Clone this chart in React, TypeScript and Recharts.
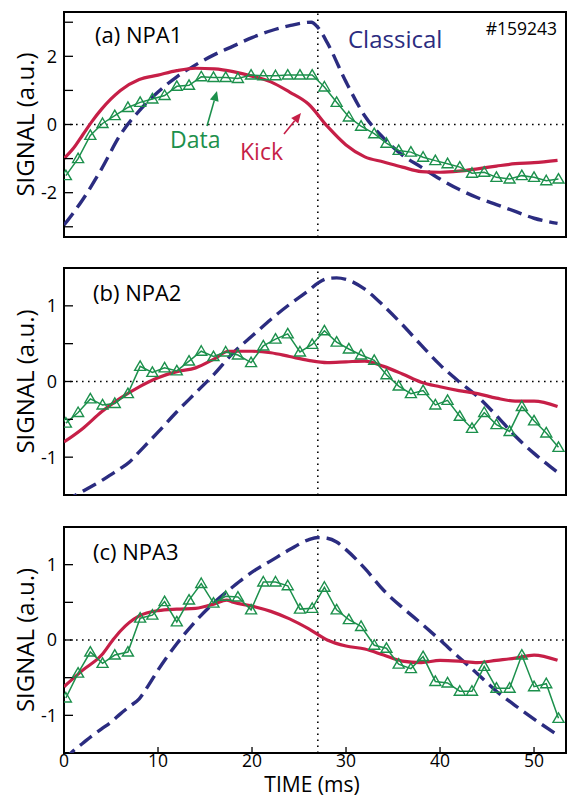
import React from "react";
import {
  LineChart,
  Line,
  XAxis,
  YAxis,
  ReferenceLine,
  ReferenceArea,
} from "recharts";

const NAVY = "#2b2c80";
const RED = "#c61f47";
const GREEN = "#1c904c";
const FONT = "'Open Sans', sans-serif";

// x axis (ms)
const X_DOMAIN: [number, number] = [0, 53.4];
const X_MAJOR = [0, 10, 20, 30, 40, 50];
const T_MARK = 27;

// measured points (triangles), same times for all three NPAs
const DATA_TIME = [
  0.2, 1.5, 2.8, 4.1, 5.4, 6.8, 8.1, 9.4, 10.7, 12.0, 13.3, 14.6, 15.9, 17.2,
  18.5, 19.9, 21.2, 22.5, 23.8, 25.1, 26.4, 27.7, 29.0, 30.3, 31.6, 33.0, 34.3,
  35.6, 36.9, 38.2, 39.5, 40.8, 42.1, 43.4, 44.7, 46.0, 47.4, 48.7, 50.0, 51.3,
  52.6,
];
const NPA1_DATA = [
  -1.5, -1.0, -0.32, 0.03, 0.26, 0.5, 0.65, 0.75, 0.85, 1.12, 1.15, 1.4, 1.38,
  1.38, 1.35, 1.45, 1.43, 1.43, 1.45, 1.45, 1.45, 1.1, 0.65, 0.22, -0.05, -0.27,
  -0.55, -0.76, -0.81, -0.96, -1.06, -1.15, -1.25, -1.43, -1.4, -1.55, -1.6,
  -1.5, -1.55, -1.65, -1.6,
];
const NPA2_DATA = [
  -0.55, -0.41, -0.23, -0.31, -0.29, -0.16, 0.2, 0.12, 0.18, 0.14, 0.27, 0.4,
  0.33, 0.39, 0.35, 0.25, 0.47, 0.56, 0.63, 0.39, 0.49, 0.67, 0.52, 0.43, 0.35,
  0.28, 0.09, -0.06, -0.16, -0.12, -0.31, -0.25, -0.46, -0.62, -0.41, -0.57,
  -0.66, -0.33, -0.52, -0.68, -0.87,
];
const NPA3_DATA = [
  -0.77, -0.44, -0.16, -0.31, -0.2, -0.16, 0.29, 0.33, 0.51, 0.24, 0.53, 0.75,
  0.49, 0.58, 0.57, 0.4, 0.77, 0.77, 0.72, 0.41, 0.42, 0.7, 0.4, 0.27, 0.18,
  -0.07, -0.11, -0.32, -0.38, -0.22, -0.55, -0.57, -0.68, -0.68, -0.35, -0.64,
  -0.64, -0.2, -0.62, -0.58, -1.04,
];

// classical model
const NPA1_CLASSICAL_TIME = [
  0, 2, 4, 6, 8, 10, 12, 14, 16, 18, 20, 22, 24, 26.3, 27, 28, 30, 32, 34, 36,
  38, 40, 42, 44, 46, 48, 50, 52.5,
];
const NPA1_CLASSICAL = [
  -2.95, -2.2, -1.3, -0.3, 0.4, 0.95, 1.4, 1.75, 2.05, 2.3, 2.55, 2.75, 2.9,
  3.0, 2.85, 2.4, 1.25, 0.25, -0.4, -0.9, -1.25, -1.6, -1.9, -2.15, -2.35,
  -2.55, -2.75, -2.9,
];
const NPA2_CLASSICAL_TIME = [
  0, 1, 2, 3, 4, 5, 6, 7, 8, 9, 10, 12, 14, 16, 18, 20, 22, 24, 26, 27, 28, 29,
  30, 32, 34, 36, 38, 40, 42, 44, 46, 48, 50, 52.5,
];
const NPA2_CLASSICAL = [
  -1.6, -1.52, -1.45, -1.38, -1.31, -1.23, -1.15, -1.06, -0.93, -0.8, -0.67,
  -0.4, -0.15, 0.1, 0.38, 0.6, 0.82, 1.02, 1.2, 1.3, 1.36, 1.37, 1.35, 1.22,
  1.0, 0.75, 0.48, 0.22, 0.0, -0.2, -0.45, -0.72, -0.95, -1.2,
];
const NPA3_CLASSICAL_TIME = NPA2_CLASSICAL_TIME;
const NPA3_CLASSICAL = [
  -1.6, -1.47, -1.37, -1.27, -1.18, -1.09, -0.98, -0.88, -0.78, -0.6, -0.4,
  -0.05, 0.25, 0.5, 0.71, 0.9, 1.05, 1.2, 1.33, 1.36, 1.35, 1.3, 1.2, 0.95,
  0.66, 0.43, 0.22, 0.0, -0.23, -0.45, -0.68, -0.87, -1.05, -1.26,
];

// kick model
const NPA1_KICK_TIME = [
  0, 1, 2, 3, 4, 5, 6, 8, 10, 12, 14, 16, 18, 20, 22, 24, 26, 28, 30, 32, 34,
  36, 38, 40, 42, 44, 46, 48, 50, 52.5,
];
const NPA1_KICK = [
  -1.0, -0.7, -0.3, 0.1, 0.45, 0.75, 1.0, 1.32, 1.45, 1.58, 1.65, 1.63, 1.55,
  1.42, 1.25, 0.95, 0.6, -0.05, -0.6, -0.95, -1.1, -1.25, -1.38, -1.4, -1.37,
  -1.3, -1.22, -1.15, -1.12, -1.05,
];
const NPA2_KICK_TIME = [
  0, 2, 4, 6, 8, 10, 12, 14, 16, 17.5, 20, 22, 24, 26, 28, 30, 32, 34, 36, 38,
  40, 42, 44, 46, 48, 50, 52.5,
];
const NPA2_KICK = [
  -0.8, -0.62, -0.4, -0.22, -0.07, 0.05, 0.13, 0.18, 0.3, 0.4, 0.4, 0.38, 0.33,
  0.28, 0.25, 0.26, 0.27, 0.2, 0.1, -0.01, -0.07, -0.12, -0.16, -0.22, -0.26,
  -0.26, -0.33,
];
const NPA3_KICK_TIME = [
  0, 2, 4, 5.2, 6, 8, 10, 12, 14, 16, 17.3, 18, 20, 22, 24, 26, 28, 30, 32, 34,
  36, 38, 40, 42, 44, 46, 48, 50, 52.5,
];
const NPA3_KICK = [
  -0.62, -0.4, -0.2, 0.0, 0.12, 0.32, 0.39, 0.41, 0.42, 0.48, 0.53, 0.5, 0.45,
  0.38, 0.28, 0.15, 0.0, -0.08, -0.12, -0.2, -0.28, -0.3, -0.27, -0.28, -0.3,
  -0.27, -0.24, -0.2, -0.27,
];

type Pt = { t: number; v: number };
const zip = (ts: number[], vs: number[]): Pt[] =>
  ts.map((t, i) => ({ t, v: vs[i] }));

// evenly spaced tick positions for the minor ticks
function steps(from: number, to: number, step: number) {
  const out: number[] = [];
  for (let i = 0; from + i * step <= to + 1e-9; i++) {
    out.push(Math.round((from + i * step) * 1000) / 1000);
  }
  return out;
}
const X_MINOR = steps(0, 53, 1);

const Triangle = (props: any) => {
  const { cx, cy, index } = props;
  if (cx == null || cy == null) return <g key={index} />;
  return (
    <path
      key={index}
      d={`M${cx},${cy - 5.5}L${cx + 5.5},${cy + 4}L${cx - 5.5},${cy + 4}Z`}
      fill="none"
      stroke={GREEN}
      strokeWidth={1.4}
    />
  );
};

type PanelProps = {
  top: number;
  height: number;
  plotTop: number;
  plotBottom: number;
  yDomain: [number, number];
  yMajor: number[];
  yLabels: number[];
  classical: Pt[];
  kick: Pt[];
  data: Pt[];
  xLabels: boolean;
};

function Panel(p: PanelProps) {
  const yMinor = steps(p.yDomain[0], p.yDomain[1], 0.1);
  const tickLine = { stroke: "#000", strokeWidth: 1.3 };
  return (
    <div style={{ position: "absolute", left: 0, top: p.top }}>
      <LineChart
        width={570}
        height={p.height}
        margin={{
          top: p.plotTop - p.top - 2,
          right: 2,
          bottom: p.top + p.height - p.plotBottom - 2,
          left: 62,
        }}
      >
        <XAxis
          xAxisId="x"
          dataKey="t"
          type="number"
          domain={X_DOMAIN}
          allowDataOverflow
          ticks={X_MAJOR}
          interval={0}
          height={1}
          tickSize={-6}
          tickMargin={8}
          axisLine={false}
          tickLine={tickLine}
          tick={p.xLabels ? { fontSize: 17.5, fill: "#000" } : false}
        />
        <XAxis
          xAxisId="xm"
          type="number"
          domain={X_DOMAIN}
          allowDataOverflow
          ticks={X_MINOR}
          interval={0}
          height={1}
          tickSize={-3}
          axisLine={false}
          tickLine={tickLine}
          tick={false}
        />
        <XAxis
          xAxisId="xt"
          orientation="top"
          type="number"
          domain={X_DOMAIN}
          allowDataOverflow
          ticks={X_MAJOR}
          interval={0}
          height={1}
          tickSize={-6}
          axisLine={false}
          tickLine={tickLine}
          tick={false}
        />
        <XAxis
          xAxisId="xtm"
          orientation="top"
          type="number"
          domain={X_DOMAIN}
          allowDataOverflow
          ticks={X_MINOR}
          interval={0}
          height={1}
          tickSize={-3}
          axisLine={false}
          tickLine={tickLine}
          tick={false}
        />
        <YAxis
          yAxisId="y"
          type="number"
          domain={p.yDomain}
          allowDataOverflow
          ticks={p.yMajor}
          interval={0}
          width={1}
          tickSize={-9}
          tickMargin={16}
          axisLine={false}
          tickLine={tickLine}
          tick={{ fontSize: 18, fill: "#000" }}
          tickFormatter={(v: number) => (p.yLabels.includes(v) ? String(v) : "")}
        />
        <YAxis
          yAxisId="ym"
          type="number"
          domain={p.yDomain}
          allowDataOverflow
          ticks={yMinor}
          interval={0}
          width={1}
          tickSize={-5}
          axisLine={false}
          tickLine={tickLine}
          tick={false}
        />
        <YAxis
          yAxisId="yr"
          orientation="right"
          type="number"
          domain={p.yDomain}
          allowDataOverflow
          ticks={p.yMajor}
          interval={0}
          width={1}
          tickSize={-9}
          axisLine={false}
          tickLine={tickLine}
          tick={false}
        />
        <YAxis
          yAxisId="yrm"
          orientation="right"
          type="number"
          domain={p.yDomain}
          allowDataOverflow
          ticks={yMinor}
          interval={0}
          width={1}
          tickSize={-5}
          axisLine={false}
          tickLine={tickLine}
          tick={false}
        />
        <ReferenceLine
          xAxisId="x"
          yAxisId="y"
          y={0}
          stroke="#000"
          strokeWidth={1.6}
          strokeDasharray="1.6 4.4"
        />
        <ReferenceLine
          xAxisId="x"
          yAxisId="y"
          x={T_MARK}
          stroke="#000"
          strokeWidth={1.6}
          strokeDasharray="1.6 4.4"
        />
        <Line
          xAxisId="x"
          yAxisId="y"
          data={p.classical}
          dataKey="v"
          type="monotone"
          stroke={NAVY}
          strokeWidth={3.4}
          strokeDasharray="15 7"
          dot={false}
          isAnimationActive={false}
        />
        <Line
          xAxisId="x"
          yAxisId="y"
          data={p.kick}
          dataKey="v"
          type="monotone"
          stroke={RED}
          strokeWidth={3.2}
          dot={false}
          isAnimationActive={false}
        />
        <Line
          xAxisId="x"
          yAxisId="y"
          data={p.data}
          dataKey="v"
          type="linear"
          stroke={GREEN}
          strokeWidth={1.5}
          dot={Triangle}
          isAnimationActive={false}
        />
        <ReferenceArea
          xAxisId="x"
          yAxisId="y"
          x1={X_DOMAIN[0]}
          x2={X_DOMAIN[1]}
          y1={p.yDomain[0]}
          y2={p.yDomain[1]}
          fill="none"
          stroke="#000"
          strokeWidth={2}
        />
      </LineChart>
    </div>
  );
}

function arrow(tail: [number, number], tip: [number, number], color: string) {
  const dx = tip[0] - tail[0];
  const dy = tip[1] - tail[1];
  const len = Math.hypot(dx, dy);
  const ux = dx / len;
  const uy = dy / len;
  const bx = tip[0] - 10 * ux;
  const by = tip[1] - 10 * uy;
  const px = -uy * 4.5;
  const py = ux * 4.5;
  return (
    <g>
      <line x1={tail[0]} y1={tail[1]} x2={bx} y2={by} stroke={color} strokeWidth={1.6} />
      <polygon
        points={`${tip[0]},${tip[1]} ${bx + px},${by + py} ${bx - px},${by - py}`}
        fill={color}
      />
    </g>
  );
}

export default function App() {
  const yA: [number, number] = [-3.3, 3.3];
  const yB: [number, number] = [-1.5, 1.5];
  return (
    <div
      style={{
        position: "absolute",
        left: 0,
        top: 0,
        width: 570,
        height: 797,
        background: "#fff",
        fontFamily: FONT,
        overflow: "hidden",
      }}
    >
      <Panel
        top={0}
        height={245}
        plotTop={12}
        plotBottom={237}
        yDomain={yA}
        yMajor={[-3, -2, -1, 0, 1, 2, 3]}
        yLabels={[-2, 0, 2]}
        classical={zip(NPA1_CLASSICAL_TIME, NPA1_CLASSICAL)}
        kick={zip(NPA1_KICK_TIME, NPA1_KICK)}
        data={zip(DATA_TIME, NPA1_DATA)}
        xLabels={false}
      />
      <Panel
        top={256}
        height={245}
        plotTop={268}
        plotBottom={495}
        yDomain={yB}
        yMajor={[-1, -0.5, 0, 0.5, 1]}
        yLabels={[-1, 0, 1]}
        classical={zip(NPA2_CLASSICAL_TIME, NPA2_CLASSICAL)}
        kick={zip(NPA2_KICK_TIME, NPA2_KICK)}
        data={zip(DATA_TIME, NPA2_DATA)}
        xLabels={false}
      />
      <Panel
        top={515}
        height={282}
        plotTop={527}
        plotBottom={753}
        yDomain={yB}
        yMajor={[-1, -0.5, 0, 0.5, 1]}
        yLabels={[-1, 0, 1]}
        classical={zip(NPA3_CLASSICAL_TIME, NPA3_CLASSICAL)}
        kick={zip(NPA3_KICK_TIME, NPA3_KICK)}
        data={zip(DATA_TIME, NPA3_DATA)}
        xLabels={true}
      />
      <svg
        width={570}
        height={797}
        style={{ position: "absolute", left: 0, top: 0, pointerEvents: "none" }}
        fontFamily={FONT}
      >
        <text x={95} y={43} fontSize={22} fill="#000">(a) NPA1</text>
        <text x={93} y={301} fontSize={22} fill="#000">(b) NPA2</text>
        <text x={93} y={560} fontSize={22} fill="#000">(c) NPA3</text>
        <text x={557} y={35} fontSize={17.5} fill="#000" textAnchor="end">#159243</text>
        <text x={348} y={48} fontSize={24} fill={NAVY}>Classical</text>
        <text x={170} y={148} fontSize={23} fill={GREEN}>Data</text>
        <text x={240} y={160} fontSize={23} fill={RED}>Kick</text>
        {arrow([207, 126], [217, 91], GREEN)}
        {arrow([284, 134], [301, 113], RED)}
        <text x={312} y={792} fontSize={21} fill="#000" textAnchor="middle">TIME (ms)</text>
        {[124.5, 381.5, 640].map((cy) => (
          <text
            key={cy}
            x={0}
            y={0}
            fontSize={24}
            fill="#000"
            textAnchor="middle"
            dominantBaseline="central"
            transform={`translate(24 ${cy}) rotate(-90)`}
          >
            SIGNAL (a.u.)
          </text>
        ))}
      </svg>
    </div>
  );
}
